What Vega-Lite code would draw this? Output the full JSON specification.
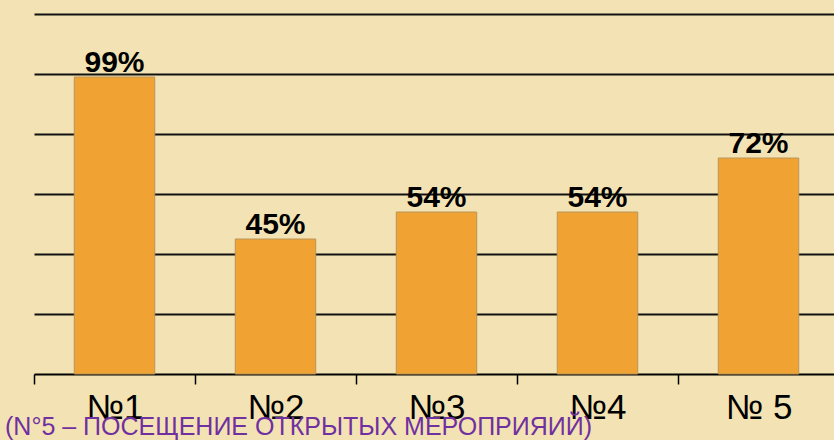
{
  "$schema": "https://vega.github.io/schema/vega-lite/v6.json",
  "autosize": "none",
  "width": 805,
  "height": 360,
  "padding": {"left": 34, "top": 14, "right": 0, "bottom": 66},
  "background": "#f3e3b4",
  "title": {
    "text": "(N°5 – ПОСЕЩЕНИЕ ОТКРЫТЫХ МЕРОПРИЯИЙ)",
    "orient": "bottom",
    "anchor": "start",
    "frame": "group",
    "dx": -29,
    "offset": -10,
    "font": "Liberation Sans",
    "fontSize": 25,
    "fontWeight": "normal",
    "color": "#7030a0"
  },
  "data": {
    "values": [
      {"group": "№1", "value": 99, "label": "99%"},
      {"group": "№2", "value": 45, "label": "45%"},
      {"group": "№3", "value": 54, "label": "54%"},
      {"group": "№4", "value": 54, "label": "54%"},
      {"group": "№ 5", "value": 72, "label": "72%"}
    ]
  },
  "encoding": {
    "x": {
      "field": "group",
      "type": "nominal",
      "sort": null,
      "scale": {"paddingInner": 0, "paddingOuter": 0},
      "axis": {
        "title": null,
        "labelAngle": 0,
        "labelFont": "Liberation Sans",
        "labelFontSize": 35,
        "labelColor": "#000000",
        "labelPadding": 6,
        "domainColor": "#000000",
        "domainWidth": 2,
        "tickColor": "#000000",
        "tickWidth": 1.5,
        "tickSize": 10,
        "tickBand": "extent",
        "grid": false
      }
    },
    "y": {
      "field": "value",
      "type": "quantitative",
      "scale": {"domain": [0, 120]},
      "axis": {
        "title": null,
        "labels": false,
        "ticks": false,
        "domain": false,
        "values": [20, 40, 60, 80, 100, 120],
        "grid": true,
        "gridColor": "#111111",
        "gridWidth": 2
      }
    }
  },
  "layer": [
    {
      "mark": {"type": "bar", "width": {"band": 0.5}, "color": "#f0a332", "stroke": "#b8955a", "strokeWidth": 1}
    },
    {
      "mark": {
        "type": "text",
        "baseline": "alphabetic",
        "dy": -5,
        "font": "Liberation Sans",
        "fontSize": 30,
        "fontWeight": "bold",
        "color": "#000000"
      },
      "encoding": {"text": {"field": "label"}}
    }
  ],
  "config": {"view": {"stroke": null}}
}
